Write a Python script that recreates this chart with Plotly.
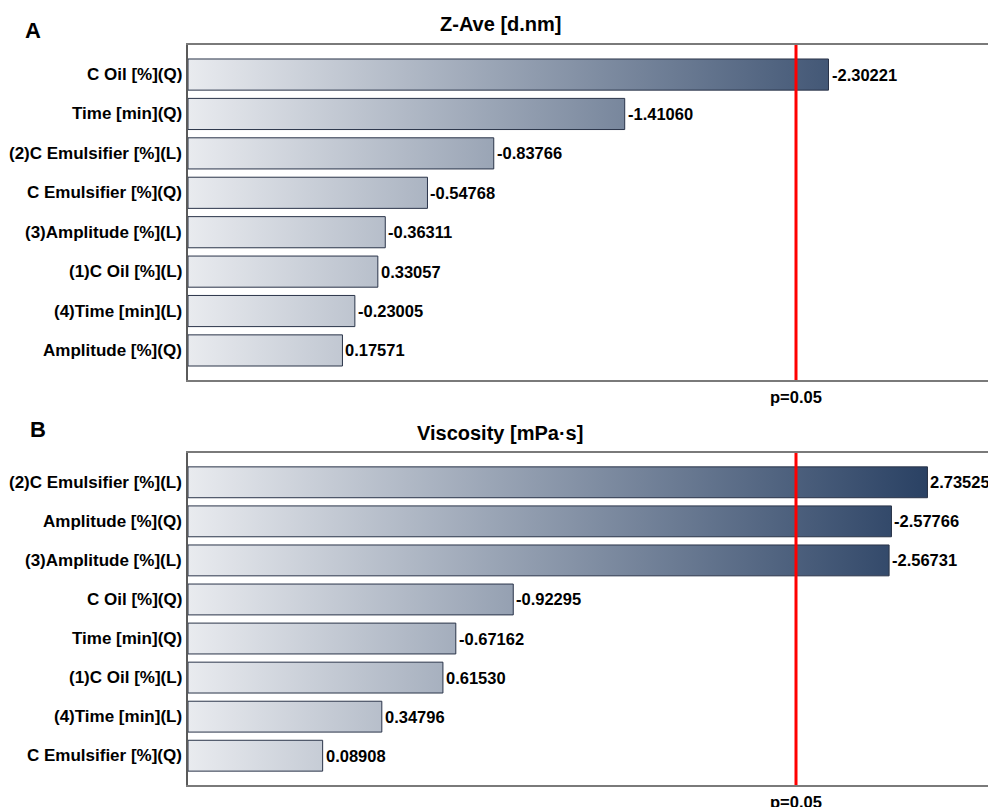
import plotly.graph_objects as go

# Standardized effect estimates (absolute value drives bar length)
zave_terms = ["C Oil [%](Q)", "Time [min](Q)", "(2)C Emulsifier [%](L)",
              "C Emulsifier [%](Q)", "(3)Amplitude [%](L)", "(1)C Oil [%](L)",
              "(4)Time [min](L)", "Amplitude [%](Q)"]
zave_effects = [-2.30221, -1.41060, -0.83766, -0.54768, -0.36311, 0.33057, -0.23005, 0.17571]

visc_terms = ["(2)C Emulsifier [%](L)", "Amplitude [%](Q)", "(3)Amplitude [%](L)",
              "C Oil [%](Q)", "Time [min](Q)", "(1)C Oil [%](L)", "(4)Time [min](L)",
              "C Emulsifier [%](Q)"]
visc_effects = [2.73525, -2.57766, -2.56731, -0.92295, -0.67162, 0.61530, 0.34796, 0.08908]

panel_titles = ["Z-Ave [d.nm]", "Viscosity [mPa·s]"]
panel_letters = ["A", "B"]
t_crit = 2.16          # t value at p = 0.05
p_label = "p=0.05"

X_MIN, X_MAX = -0.5, 3.0
HALF = 0.395
FONT = "Liberation Sans, Arial, sans-serif"
W, H = 988, 807
ML, MR = 188, 0


def px_x(px):
    """Horizontal pixel position -> paper coordinate."""
    return (px - ML) / (W - ML - MR)


def px_y(py):
    """Vertical pixel position (from top) -> paper coordinate."""
    return 1 - py / H


fig = go.Figure()

panels = [
    dict(terms=zave_terms, effects=zave_effects, xa="x", ya="y",
         dom=[px_y(380), px_y(45)]),
    dict(terms=visc_terms, effects=visc_effects, xa="x2", ya="y2",
         dom=[px_y(785), px_y(453)]),
]

annotations = []
shapes = []
for k, p in enumerate(panels):
    xs, ys = [], []
    for i, v in enumerate(p["effects"]):
        a = abs(v)
        xs += [X_MIN, a, a, X_MIN, X_MIN, None]
        ys += [i - HALF, i - HALF, i + HALF, i + HALF, i - HALF, None]
    fig.add_trace(go.Scatter(
        x=xs, y=ys, xaxis=p["xa"], yaxis=p["ya"], mode="lines",
        fill="toself", line=dict(color="#2a3449", width=1),
        fillgradient=dict(type="horizontal",
                          colorscale=[[0, "#e9ebef"], [1, "#1a3358"]],
                          start=X_MIN, stop=X_MAX),
        hoverinfo="skip", showlegend=False,
    ))
    xref = p["xa"]
    yref = p["ya"]
    for i, (t, v) in enumerate(zip(p["terms"], p["effects"])):
        annotations.append(dict(
            x=abs(v), y=i, xref=xref, yref=yref, text=f"{v:.5f}",
            showarrow=False, xanchor="left", yanchor="middle", xshift=1,
            font=dict(family=FONT, size=16.5, color="#000", weight="bold")))
        annotations.append(dict(
            x=X_MIN, y=i, xref=xref, yref=yref, text=t,
            showarrow=False, xanchor="right", yanchor="middle", xshift=-4,
            font=dict(family=FONT, size=17, color="#000", weight="bold")))
    # critical t line
    shapes.append(dict(type="line", xref=xref, yref=f"{yref} domain",
                       x0=t_crit, x1=t_crit, y0=0, y1=1,
                       line=dict(color="#ff0000", width=3)))
    annotations.append(dict(
        x=t_crit, y=0, xref=xref, yref=f"{yref} domain", text=p_label,
        showarrow=False, xanchor="center", yanchor="top", yshift=-6,
        font=dict(family=FONT, size=16.5, color="#000", weight="bold")))

# panel titles and letters
annotations += [
    dict(x=px_x(500), y=px_y(24), xref="paper", yref="paper", text=panel_titles[0],
         showarrow=False, xanchor="center", yanchor="middle",
         font=dict(family=FONT, size=20, color="#000", weight="bold")),
    dict(x=px_x(500), y=px_y(433), xref="paper", yref="paper", text=panel_titles[1],
         showarrow=False, xanchor="center", yanchor="middle",
         font=dict(family=FONT, size=20, color="#000", weight="bold")),
    dict(x=px_x(23), y=px_y(30), xref="paper", yref="paper", text=panel_letters[0],
         showarrow=False, xanchor="left", yanchor="middle",
         font=dict(family=FONT, size=22, color="#000", weight="bold")),
    dict(x=px_x(28), y=px_y(429), xref="paper", yref="paper", text=panel_letters[1],
         showarrow=False, xanchor="left", yanchor="middle",
         font=dict(family=FONT, size=22, color="#000", weight="bold")),
]

xaxis_common = dict(range=[X_MIN, X_MAX], showgrid=False, zeroline=False,
                    showticklabels=False, ticks="", showline=True, mirror=True,
                    linecolor="#7a7a7a", linewidth=2, fixedrange=True)
yaxis_common = dict(range=[7.75, -0.75], showgrid=False, zeroline=False,
                    showticklabels=False, ticks="", showline=True, mirror=False,
                    linecolor="#5a5a5a", linewidth=2, fixedrange=True)

fig.update_layout(
    width=W, height=H,
    margin=dict(l=ML, r=MR, t=0, b=0),
    paper_bgcolor="white", plot_bgcolor="white",
    xaxis=dict(**xaxis_common, domain=[0, 1], anchor="y"),
    yaxis=dict(**yaxis_common, domain=panels[0]["dom"], anchor="x"),
    xaxis2=dict(**xaxis_common, domain=[0, 1], anchor="y2"),
    yaxis2=dict(**yaxis_common, domain=panels[1]["dom"], anchor="x2"),
    annotations=annotations, shapes=shapes,
    showlegend=False,
)

fig.write_html("out.html")
